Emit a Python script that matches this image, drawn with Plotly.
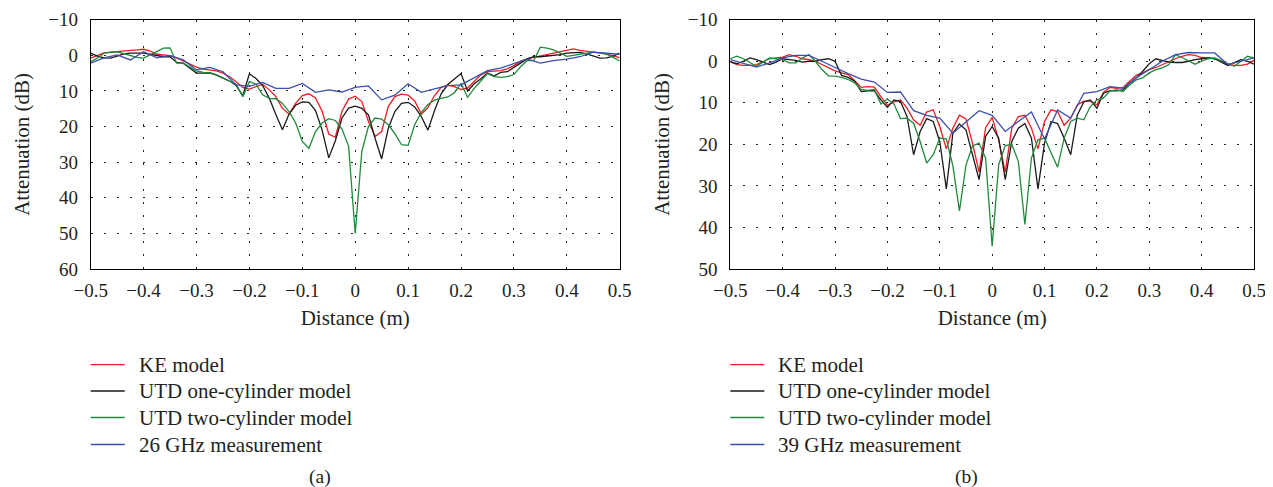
import plotly.graph_objects as go

# ---------------- data ----------------
X_MODEL = [-0.5, -0.4875, -0.475, -0.4625, -0.45, -0.4375, -0.425, -0.4125, -0.4, -0.3875,
           -0.375, -0.3625, -0.35, -0.3375, -0.325, -0.3125, -0.3, -0.2875, -0.275, -0.2625,
           -0.25, -0.2375, -0.225, -0.2125, -0.2, -0.1875, -0.175, -0.1625, -0.15, -0.1375,
           -0.125, -0.1125, -0.1, -0.0875, -0.075, -0.0625, -0.05, -0.0375, -0.025, -0.0125,
           0.0, 0.0125, 0.025, 0.0375, 0.05, 0.0625, 0.075, 0.0875, 0.1, 0.1125,
           0.125, 0.1375, 0.15, 0.1625, 0.175, 0.1875, 0.2, 0.2125, 0.225, 0.2375,
           0.25, 0.2625, 0.275, 0.2875, 0.3, 0.3125, 0.325, 0.3375, 0.35, 0.3625,
           0.375, 0.3875, 0.4, 0.4125, 0.425, 0.4375, 0.45, 0.4625, 0.475, 0.4875, 0.5]

X_MEAS = [-0.5, -0.475, -0.45, -0.425, -0.4, -0.375, -0.35, -0.325, -0.3, -0.275,
          -0.25, -0.225, -0.2, -0.175, -0.15, -0.125, -0.1, -0.075, -0.05, -0.025,
          0.0, 0.025, 0.05, 0.075, 0.1, 0.125, 0.15, 0.175, 0.2, 0.225,
          0.25, 0.275, 0.3, 0.325, 0.35, 0.375, 0.4, 0.425, 0.45, 0.475, 0.5]

# (a) 26 GHz
KE_A = [0.8, 0.1, -0.7, -0.9, -1.0, -1.1, -1.3, -1.5, -1.7, -1.2,
        -0.3, 0.0, 0.1, 0.7, 1.6, 2.4, 3.3, 3.9, 4.1, 4.4,
        5.0, 6.0, 7.4, 9.0, 9.5, 8.9, 8.1, 9.7, 11.6, 14.9,
        16.5, 13.5, 11.3, 10.8, 12.0, 15.7, 22.1, 23.0, 15.7, 12.3,
        11.5, 13.0, 18.6, 22.8, 21.4, 14.4, 11.6, 10.9, 11.2, 12.8,
        16.5, 14.7, 11.3, 9.0, 8.4, 8.8, 9.6, 9.2, 7.2, 5.5,
        4.6, 4.5, 4.3, 3.8, 2.9, 1.7, 1.0, 0.6, 0.2, -0.2,
        -0.5, -1.0, -1.5, -1.8, -1.4, -1.2, -1.0, -0.8, -0.4, 0.1, 0.7]

UTD1_A = [-0.6, 0.2, 0.7, 0.8, 0.2, -0.4, -0.6, -0.6, -0.6, -0.3,
          0.1, 0.4, 0.4, 2.0, 2.2, 3.5, 5.0, 5.0, 4.9, 5.5,
          6.4, 7.2, 8.5, 11.3, 5.2, 6.5, 8.5, 12.0, 16.6, 20.9,
          16.5, 14.0, 13.1, 13.2, 15.5, 21.0, 28.8, 24.0, 17.6, 14.8,
          14.3, 14.9, 16.7, 23.3, 29.1, 20.5, 15.8, 13.5, 13.2, 14.5,
          17.2, 21.0, 15.5, 10.8, 8.2, 6.7, 5.1, 10.0, 8.0, 6.6,
          5.0, 5.8, 4.8, 4.6, 3.5, 2.2, 1.0, 0.4, 0.4, 0.2,
          0.1, -0.2, -0.6, -0.7, -0.8, -0.4, 0.2, 0.8, 0.7, 0.2, -0.6]

UTD2_A = [1.8, 0.8, -0.6, -0.8, -1.0, -0.5, 0.1, 0.6, 0.8, -0.1,
          -1.0, -2.0, -2.1, 2.2, 2.2, 3.3, 4.4, 4.8, 4.9, 5.6,
          6.4, 7.2, 8.1, 11.6, 7.4, 8.1, 11.1, 12.1, 12.2, 13.5,
          15.8, 19.0, 24.2, 26.1, 21.4, 19.0, 17.8, 18.3, 20.7, 25.5,
          50.0, 27.0, 20.0, 17.6, 17.9, 19.5, 22.0, 25.1, 25.3, 19.5,
          16.0, 13.8, 12.6, 12.1, 11.7, 10.5, 7.9, 11.8, 9.3, 7.2,
          5.1, 6.0, 6.2, 6.0, 5.4, 3.2, 1.5, 1.5, -2.3, -2.0,
          -1.5, -0.6, 0.3, 0.0, -0.3, -0.6, -0.9, -0.7, -0.3, 0.6, 1.6]

MEAS_A = [2.2, 0.7, -0.1, 1.3, -1.0, 0.7, 0.1, 1.3, 4.1, 3.4,
          4.6, 8.3, 8.7, 7.6, 9.3, 9.3, 7.9, 10.4, 9.7, 10.3,
          9.0, 8.6, 12.5, 11.2, 8.0, 10.4, 9.4, 8.5, 8.3, 6.4,
          4.3, 3.6, 2.2, 1.0, 2.2, 1.5, 1.1, 0.4, -0.9, -0.6, -0.3]

# (b) 39 GHz
KE_B = [0.0, 0.8, 1.0, 1.0, 0.8, 0.0, -0.6, -0.8, -1.0, -1.6,
        -1.2, -0.6, -0.4, 0.0, 0.8, 1.6, 2.3, 2.8, 3.2, 4.7,
        6.3, 6.1, 6.2, 8.5, 10.6, 9.8, 9.3, 11.3, 14.1, 15.4,
        12.2, 11.7, 15.7, 21.1, 16.1, 13.0, 13.9, 19.7, 26.7, 16.0,
        13.5, 19.0, 26.7, 16.1, 13.3, 13.0, 16.1, 21.1, 14.5, 11.7,
        12.1, 15.4, 13.7, 10.5, 9.6, 9.6, 10.5, 7.5, 6.3, 6.5,
        6.3, 4.8, 3.4, 2.8, 2.0, 1.5, 0.8, 0.0, -0.6, -1.2,
        -1.6, -1.4, -0.9, -0.8, -0.6, 0.0, 0.8, 1.0, 1.0, 0.7, -0.2]

UTD1_B = [0.2, 0.6, 0.0, -0.8, -0.4, 0.2, 0.8, 0.2, -0.6, -0.4,
          -0.2, 0.2, 0.0, 0.0, -0.4, -0.6, 0.0, 3.4, 3.9, 4.8,
          7.3, 7.1, 7.1, 9.3, 11.1, 9.3, 9.7, 13.3, 22.5, 16.9,
          13.8, 14.5, 19.3, 30.7, 17.3, 15.1, 16.5, 22.5, 28.5, 18.1,
          15.7, 18.5, 28.5, 19.3, 16.1, 15.0, 18.5, 30.7, 19.7, 14.5,
          15.0, 18.5, 22.5, 13.0, 9.8, 9.3, 11.3, 7.7, 7.1, 7.1,
          6.9, 5.3, 4.0, 2.4, 0.6, -0.6, -0.2, 0.2, 0.3, 0.3,
          0.0, -0.4, -0.6, -0.8, -0.6, 0.2, 1.0, 0.3, -0.4, 0.0, 0.7]

UTD2_B = [-0.6, -1.2, -0.6, 0.2, 1.2, 0.2, -0.8, -0.6, -0.4, 0.4,
          0.4, -0.8, -1.6, 0.0, 2.0, 3.5, 3.6, 3.9, 4.4, 5.2,
          6.8, 7.0, 6.8, 10.3, 9.1, 10.3, 13.8, 13.7, 14.9, 19.3,
          24.5, 22.5, 18.5, 18.7, 25.2, 36.0, 25.0, 20.4, 19.7, 23.3,
          44.5, 24.9, 20.3, 20.0, 24.1, 39.3, 23.3, 18.9, 18.5, 22.0,
          25.5, 18.5, 14.5, 13.7, 14.1, 10.9, 9.3, 8.9, 7.1, 6.9,
          7.3, 5.7, 4.5, 4.0, 2.8, 2.0, 1.6, 0.8, -1.6, -0.9,
          -0.1, 0.7, 0.0, -0.6, -0.8, -0.1, 0.4, 1.2, 0.0, -1.2, -0.8]

MEAS_B = [-0.4, 0.5, 1.4, 0.4, -0.8, -1.4, -1.4, 0.0, 1.6, 3.0,
          4.3, 5.0, 7.5, 7.4, 11.9, 13.0, 13.7, 17.3, 14.6, 11.9,
          13.0, 16.9, 14.5, 12.2, 18.7, 11.7, 13.7, 7.7, 7.3, 6.1,
          6.5, 4.0, 2.0, 0.0, -1.6, -2.1, -2.0, -2.0, 0.8, 0.0, -0.8]

SERIES_NAMES = ["KE model", "UTD one-cylinder model", "UTD two-cylinder model"]
MEAS_NAMES = ["26 GHz measurement", "39 GHz measurement"]
PANEL_LABELS = ["(a)", "(b)"]

X_TICKS = [-0.5, -0.4, -0.3, -0.2, -0.1, 0.0, 0.1, 0.2, 0.3, 0.4, 0.5]
X_TICKTEXT = ["\u22120.5", "\u22120.4", "\u22120.3", "\u22120.2", "\u22120.1", "0",
              "0.1", "0.2", "0.3", "0.4", "0.5"]
Y_TICKS_A = [-10, 0, 10, 20, 30, 40, 50, 60]
Y_TICKS_B = [-10, 0, 10, 20, 30, 40, 50]

# ---------------- style ----------------
COLORS = ["#ee1c24", "#1a1a1a", "#1f8a3c", "#3b4fae"]
FONT = "Liberation Serif"
TXT = "#231f20"
W, H = 1273, 487


def px_x(p):
    return p / W


def px_y(p):
    return 1 - p / H


fig = go.Figure()

panels = [
    ("x", "y", [KE_A, UTD1_A, UTD2_A], MEAS_A, MEAS_NAMES[0], PANEL_LABELS[0], 82.7, 312),
    ("x2", "y2", [KE_B, UTD1_B, UTD2_B], MEAS_B, MEAS_NAMES[1], PANEL_LABELS[1], 722.3, 958),
]
shapes = []
annotations = []
ROW_Y = [356.7, 383.0, 409.5, 436.5]
for xa, ya, models, meas, mname, plabel, left_px, lab_px in panels:
    names = SERIES_NAMES + [mname]
    for name, vals, col in zip(SERIES_NAMES, models, COLORS[:3]):
        fig.add_trace(go.Scatter(x=X_MODEL, y=vals, mode="lines", name=name,
                                 line=dict(color=col, width=1.3),
                                 xaxis=xa, yaxis=ya, showlegend=False))
    fig.add_trace(go.Scatter(x=X_MEAS, y=meas, mode="lines", name=mname,
                             line=dict(color=COLORS[3], width=1.3),
                             xaxis=xa, yaxis=ya, showlegend=False))
    # legend block below the panel
    for name, col, ry in zip(names, COLORS, ROW_Y):
        shapes.append(dict(type="line", xref="paper", yref="paper",
                           x0=px_x(left_px), x1=px_x(left_px + 34),
                           y0=px_y(ry), y1=px_y(ry),
                           line=dict(color=col, width=1.3)))
        annotations.append(dict(text=name, x=px_x(left_px + 46), y=px_y(ry),
                                xref="paper", yref="paper", showarrow=False,
                                xanchor="left", yanchor="middle",
                                font=dict(family=FONT, size=21, color=TXT)))
    annotations.append(dict(text=plabel, x=px_x(lab_px), y=px_y(469), xref="paper",
                            yref="paper", showarrow=False, xanchor="center",
                            yanchor="middle",
                            font=dict(family=FONT, size=19.5, color=TXT)))

common_x = dict(range=[-0.5, 0.5], tickvals=X_TICKS, ticktext=X_TICKTEXT,
                showgrid=True, gridcolor="#222222", griddash="2px,11px", gridwidth=1,
                showline=True, linecolor="#000000", linewidth=1, mirror=True,
                zeroline=False, ticks="", automargin=False, ticklabelstandoff=4,
                tickfont=dict(family=FONT, size=19, color=TXT),
                title=dict(text="Distance (m)", font=dict(family=FONT, size=21, color=TXT),
                           standoff=10))
common_y = dict(showgrid=True, gridcolor="#222222", griddash="2px,11px", gridwidth=1,
                showline=True, linecolor="#000000", linewidth=1, mirror=True,
                zeroline=False, ticks="", automargin=False, ticklabelstandoff=8,
                tickfont=dict(family=FONT, size=19, color=TXT),
                title=dict(text="Attenuation (dB)", font=dict(family=FONT, size=21, color=TXT),
                           standoff=12))

y_dom = [px_y(261), px_y(11.7)]
fig.update_layout(
    width=W, height=H,
    margin=dict(l=0, r=0, t=0, b=0, autoexpand=False),
    paper_bgcolor="white", plot_bgcolor="white",
    font=dict(family=FONT, color=TXT),
    showlegend=False,
    xaxis=dict(domain=[px_x(82.7), px_x(611.7)], anchor="y", **common_x),
    yaxis=dict(domain=y_dom, anchor="x", range=[60, -10], tickvals=Y_TICKS_A,
               ticktext=[("\u2212" + str(-v)) if v < 0 else str(v) for v in Y_TICKS_A],
               **common_y),
    xaxis2=dict(domain=[px_x(722.3), px_x(1246)], anchor="y2", **common_x),
    yaxis2=dict(domain=y_dom, anchor="x2", range=[50, -10], tickvals=Y_TICKS_B,
                ticktext=[("\u2212" + str(-v)) if v < 0 else str(v) for v in Y_TICKS_B],
                **common_y),
    shapes=shapes,
    annotations=annotations,
)

fig.write_html("out.html")
